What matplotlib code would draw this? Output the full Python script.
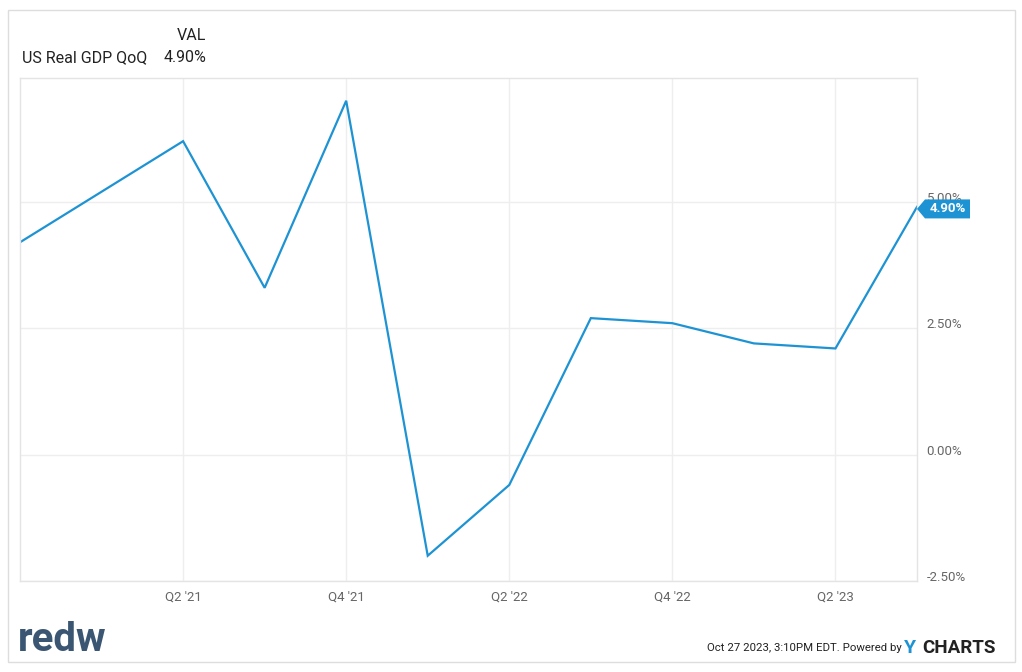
import numpy as np
import matplotlib.pyplot as plt
from matplotlib.patches import Rectangle, Polygon
from matplotlib.transforms import ScaledTranslation

quarters = ["Q4 '20", "Q1 '21", "Q2 '21", "Q3 '21", "Q4 '21", "Q1 '22",
            "Q2 '22", "Q3 '22", "Q4 '22", "Q1 '23", "Q2 '23", "Q3 '23"]
gdp_qoq = [4.2, 5.2, 6.2, 3.3, 7.0, -2.0, -0.6, 2.7, 2.6, 2.2, 2.1, 4.9]
tick_labels = ["Q2 '21", "Q4 '21", "Q2 '22", "Q4 '22", "Q2 '23"]
y_ticks = [-2.5, 0.0, 2.5, 5.0]

line_col = "#1e93d3"
grid_col = "#eeeeee"
text_col = "#666666"

W, H = 1022, 672
fig = plt.figure(figsize=(W / 100, H / 100), dpi=100)
plt.rcParams['font.family'] = ['Roboto', 'DejaVu Sans']

# outer frame
fig.patches.append(Rectangle((8 / W, 1 - 662 / H), 1007 / W, 652 / H,
                             transform=fig.transFigure, fill=False,
                             edgecolor="#dddddd", linewidth=1))

ax = fig.add_axes([20 / W, 1 - 581 / H, 897 / W, 503 / H])
x = np.arange(len(quarters))
ax.plot(x, gdp_qoq, color=line_col, linewidth=1.6, solid_joinstyle="miter")

ax.set_xlim(0, len(quarters) - 1)
ax.set_ylim(-2.45, 7.45)
tick_pos = [quarters.index(t) for t in tick_labels]
ax.set_xticks(tick_pos)
ax.set_xticklabels(tick_labels, fontsize=9.5, color=text_col)
ax.set_yticks(y_ticks)
ax.set_yticklabels([f"{v:.2f}%" for v in y_ticks], fontsize=9.5, color=text_col)
ax.yaxis.tick_right()
ax.tick_params(axis="both", length=0)
ax.tick_params(axis="y", pad=7)
ax.tick_params(axis="x", pad=7)
# labels sit a little above their gridlines
shift = ScaledTranslation(0, 5 / 100, fig.dpi_scale_trans)
for lab in ax.get_yticklabels():
    lab.set_transform(lab.get_transform() + shift)
ax.grid(True, color=grid_col, linewidth=1)
ax.set_axisbelow(True)
for s in ax.spines.values():
    s.set_color("#e4e4e4")
    s.set_linewidth(1)

# last value tag
last = gdp_qoq[-1]
fig.canvas.draw()
tx, ty = ax.transData.transform((x[-1], last))
fx, fy = tx / W, (ty - 2) / H
tag = Polygon([(fx, fy), (fx + 8 / W, fy + 9.5 / H), (fx + 53 / W, fy + 9.5 / H),
               (fx + 53 / W, fy - 9.5 / H), (fx + 8 / W, fy - 9.5 / H)],
              closed=True, transform=fig.transFigure, facecolor=line_col,
              edgecolor="none", clip_on=False, zorder=5)
fig.add_artist(tag)
fig.text(fx + 31 / W, fy, f"{last:.2f}%", color="white", fontsize=9.5,
         fontweight="bold", ha="center", va="center", zorder=6)

# legend header
fig.text(206 / W, 1 - 35 / H, "VAL", fontsize=11.5, ha="right", va="center",
         color="#222222")
fig.text(22 / W, 1 - 58 / H, "US Real GDP QoQ", fontsize=11.5, ha="left",
         va="center", color="#222222")
fig.text(206 / W, 1 - 58 / H, f"{last:.2f}%", fontsize=11.5, ha="right",
         va="center", color="#222222")

# footer
fig.text(18 / W, 1 - 640 / H, "redw", fontsize=29, fontweight="bold",
         color="#3a5673", ha="left", va="center")
fig.text(902 / W, 1 - 648 / H, "Oct 27 2023, 3:10PM EDT. Powered by",
         fontsize=8.2, color="#222222", ha="right", va="center")
fig.text(904 / W, 1 - 648 / H, "Y", fontsize=14, fontweight="bold",
         color=line_col, ha="left", va="center")
fig.text(922 / W, 1 - 648 / H, "CHARTS", fontsize=13.5, fontweight="bold",
         color="#222222", ha="left", va="center")

fig.savefig("out.png", dpi=100, facecolor="white")
